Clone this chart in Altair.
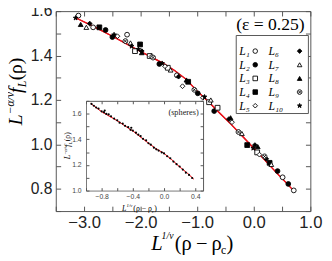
import altair as alt
import pandas as pd

W, H = 261, 205
SANS = "Liberation Sans"
SERIF = "Liberation Serif"
FRAME = "#555555"
RED = "#e8141c"

# ---------------- data ----------------
series_names = ["L₁", "L₂", "L₃", "L₄", "L₅", "L₆", "L₇", "L₈", "L₉", "L₁₀"]
CIRCX = "M1,0A1,1,0,1,1,-1,0A1,1,0,1,1,1,0Z M-0.7,-0.7L0.7,0.7M-0.7,0.7L0.7,-0.7"
STAR = "M0,-1L0.24,-0.33L0.95,-0.31L0.38,0.12L0.59,0.81L0,0.4L-0.59,0.81L-0.38,0.12L-0.95,-0.31L-0.24,-0.33Z"
series_shapes = ["circle", "circle", "square", "square", "diamond", "diamond",
                 "triangle-up", "triangle-up", CIRCX, STAR]
series_fills = ["white", "black", "white", "black", "white", "black",
                "white", "black", "white", "black"]

L1_x = [-3.10, -2.84, -2.24, -1.36, 0.51, 0.707]
L1_y = [1.580, 1.527, 1.494, 1.311, 0.852, 0.793]
L2_x = [-2.62, -2.50, -1.67, -0.99, -0.70, 0.42, 0.61]
L2_y = [1.515, 1.483, 1.362, 1.230, 1.150, 0.880, 0.822]
L3_x = [-2.10, -1.84, -1.52, -0.79, -0.64, 0.06]
L3_y = [1.420, 1.398, 1.345, 1.190, 1.165, 0.964]
L4_x = [-2.73, -2.01, -1.16, -0.116, 0.28]
L4_y = [1.527, 1.450, 1.282, 0.997, 0.917]
L5_x = [-2.41, -1.81, -1.57, -1.26, -0.90, -0.385, 0.10]
L5_y = [1.487, 1.395, 1.352, 1.262, 1.210, 1.100, 0.954]
L6_x = [-2.90, -1.98, -1.33, -0.44, 0.02, 0.22]
L6_y = [1.544, 1.420, 1.305, 1.114, 0.997, 0.935]
L7_x = [-2.96, -2.18, -1.47, -0.76, -0.21, 0.31]
L7_y = [1.527, 1.457, 1.335, 1.200, 1.049, 0.910]
L8_x = [-3.06, -1.98, -1.19, -0.41, 0.07]
L8_y = [1.540, 1.413, 1.290, 1.120, 0.990]
L9_x = [-2.27, -1.78, -1.05, -0.27, 0.19]
L9_y = [1.465, 1.391, 1.246, 1.056, 0.946]
L10_x = [-3.15, -2.47, -2.16, -2.04, -1.62, -0.87, -0.01]
L10_y = [1.569, 1.494, 1.442, 1.428, 1.365, 1.214, 0.983]

series_x = [L1_x, L2_x, L3_x, L4_x, L5_x, L6_x, L7_x, L8_x, L9_x, L10_x]
series_y = [L1_y, L2_y, L3_y, L4_y, L5_y, L6_y, L7_y, L8_y, L9_y, L10_y]

fit_x = [-3.15, -2.8, -2.5, -2.2, -2.0, -1.8, -1.6, -1.4, -1.2, -1.0, -0.8, -0.6,
         -0.4, -0.2, 0.0, 0.2, 0.4, 0.6, 0.71]
fit_y = [1.570, 1.527, 1.487, 1.446, 1.418, 1.392, 1.365, 1.333, 1.294, 1.240, 1.192,
         1.140, 1.090, 1.037, 0.983, 0.928, 0.873, 0.820, 0.790]

inset_x = [-0.93, -0.90, -0.87, -0.84, -0.80, -0.77, -0.76, -0.74, -0.71, -0.68, -0.64,
           -0.60, -0.57, -0.53, -0.50, -0.46, -0.43, -0.42, -0.40, -0.36, -0.33, -0.30,
           -0.27, -0.23, -0.20, -0.17, -0.13, -0.10, -0.07, -0.03, 0.00, 0.04, 0.08,
           0.12, 0.16, 0.20, 0.24, 0.28, 0.32, 0.36]
inset_y = [1.676, 1.662, 1.648, 1.640, 1.618, 1.612, 1.625, 1.598, 1.594, 1.580, 1.562,
           1.548, 1.530, 1.523, 1.505, 1.495, 1.474, 1.490, 1.468, 1.452, 1.436, 1.425,
           1.404, 1.392, 1.369, 1.358, 1.335, 1.322, 1.312, 1.298, 1.290, 1.268, 1.252,
           1.226, 1.206, 1.188, 1.164, 1.140, 1.122, 1.098]
inset_fit_x = [-0.94, -0.8, -0.6, -0.4, -0.2, -0.1, 0.0, 0.1, 0.2, 0.3, 0.38]
inset_fit_y = [1.680, 1.615, 1.545, 1.465, 1.370, 1.325, 1.290, 1.240, 1.185, 1.135, 1.090]

main_xticks = [-3.5, -3.0, -2.5, -2.0, -1.5, -1.0, -0.5, 0.0, 0.5, 1.0]
main_yticks = [0.7, 0.8, 0.9, 1.0, 1.1, 1.2, 1.3, 1.4, 1.5, 1.6]
inset_xticks = [-1.0, -0.8, -0.6, -0.4, -0.2, 0.0, 0.2, 0.4]
inset_yticks = [1.0, 1.1, 1.2, 1.3, 1.4, 1.5, 1.6, 1.7]

# ---------------- frames ----------------
rows = []
for name, xs, ys in zip(series_names, series_x, series_y):
    for a, b in zip(xs, ys):
        rows.append({"series": name, "x": a, "y": b})
df_pts = pd.DataFrame(rows)
df_fit = pd.DataFrame({"x": fit_x, "y": fit_y})
df_in = pd.DataFrame({"x": inset_x, "y": inset_y})
df_infit = pd.DataFrame({"x": inset_fit_x, "y": inset_fit_y})
df_leg = pd.DataFrame({
    "series": series_names,
    "col": [i // 5 for i in range(len(series_names))],
    "row": [i % 5 for i in range(len(series_names))],
})

shape_scale = alt.Scale(domain=series_names, range=series_shapes)
fill_scale = alt.Scale(domain=series_names, range=series_fills)

# ---------------- scales ----------------
def xs_main():
    return alt.Scale(domain=[-3.5, 1.0], nice=False, zero=False)

def ys_main():
    return alt.Scale(domain=[0.7, 1.6], nice=False, zero=False)

IX0, IX1, IY0, IY1 = 31, 151, 184, 92

def xs_in():
    return alt.Scale(domain=[-1.0, 0.5], range=[IX0, IX1], nice=False, zero=False)

def ys_in():
    return alt.Scale(domain=[1.0, 1.7], range=[IY0, IY1], nice=False, zero=False)

def tick_axis(orient, offset, values, size, domain=False):
    return alt.Axis(orient=orient, offset=offset, values=values, labels=False,
                    ticks=True, tickSize=size, tickColor=FRAME, tickWidth=1,
                    domain=domain, domainColor=FRAME, domainWidth=1,
                    grid=False, title=None)

x_lab_expr = "abs(datum.value % 1) < 0.01 ? format(datum.value, '.1f') : ''"
y_lab_expr = "(abs(round(datum.value*10) % 2) == 0 && datum.value > 0.75) ? format(datum.value, '.1f') : ''"
ix_lab_expr = "abs(round(datum.value*10) % 4) == 0 ? format(datum.value, '.1f') : ''"
iy_lab_expr = "abs(round(datum.value*10) % 2) == 0 ? format(datum.value, '.1f') : ''"

ax_x_lab = alt.Axis(orient="bottom", values=main_xticks, labelExpr=x_lab_expr, ticks=False,
                    tickSize=0, domain=False, grid=False, title=None, labelFont=SANS,
                    labelFontSize=17, labelColor="#222222", labelPadding=4,
                    labelFlush=False, labelOverlap=False, labelBound=False)
ax_y_lab = alt.Axis(orient="left", values=main_yticks, labelExpr=y_lab_expr, ticks=False,
                    tickSize=0, domain=False, grid=False, title=None, labelFont=SANS,
                    labelFontSize=16, labelColor="#222222", labelPadding=4,
                    labelFlush=False, labelOverlap=False, labelBound=False,
                    labelBaseline="middle")

ax_ix_lab = alt.Axis(orient="bottom", offset=-(H - IY0), values=inset_xticks,
                     labelExpr=ix_lab_expr, ticks=False, tickSize=0, domain=True,
                     domainColor=FRAME, domainWidth=0.8, grid=False, title=None,
                     labelFont=SANS, labelFontSize=7, labelColor="#444444",
                     labelPadding=2, labelFlush=False, labelOverlap=False, labelBound=False)
ax_iy_lab = alt.Axis(orient="left", offset=-IX0, values=inset_yticks,
                     labelExpr=iy_lab_expr, ticks=False, tickSize=0, domain=True,
                     domainColor=FRAME, domainWidth=0.8, grid=False, title=None,
                     labelFont=SANS, labelFontSize=7, labelColor="#444444",
                     labelPadding=5, labelFlush=False, labelOverlap=False, labelBound=False,
                     labelBaseline="middle")

# ---------------- main layers ----------------
main_fit1 = alt.Chart(df_fit).mark_line(color=RED, strokeWidth=1.3).encode(
    x=alt.X("x:Q", scale=xs_main(), axis=tick_axis("bottom", -H, main_xticks, 5)),
    y=alt.Y("y:Q", scale=ys_main(), axis=tick_axis("right", -W, main_yticks, 5)),
)
main_fit2 = alt.Chart(df_fit).mark_line(color=RED, strokeWidth=1.3).encode(
    x=alt.X("x:Q", scale=xs_main(), axis=tick_axis("top", -H, main_xticks, 5)),
    y=alt.Y("y:Q", scale=ys_main(), axis=tick_axis("left", -W, main_yticks, 5)),
)
main_pts = alt.Chart(df_pts).mark_point(size=24, stroke="black", strokeWidth=0.9,
                                        opacity=1).encode(
    x=alt.X("x:Q", scale=xs_main(), axis=ax_x_lab),
    y=alt.Y("y:Q", scale=ys_main(), axis=ax_y_lab),
    shape=alt.Shape("series:N", scale=shape_scale, legend=None),
    fill=alt.Fill("series:N", scale=fill_scale, legend=None),
)

# ---------------- legend (drawn from the series table) ----------------
leg_box = alt.Chart(alt.Data(values=[{}])).mark_rect(
    fill="white", stroke=FRAME, strokeWidth=1).encode(
    x=alt.value(185), x2=alt.value(259), y=alt.value(25), y2=alt.value(105))
leg_sym = alt.Chart(df_leg).mark_point(size=22, stroke="black", strokeWidth=0.9,
                                       opacity=1).encode(
    x=alt.X("col:Q", scale=alt.Scale(domain=[0, 1], range=[204.5, 250]), axis=None),
    y=alt.Y("row:Q", scale=alt.Scale(domain=[0, 4], range=[41, 97]), axis=None),
    shape=alt.Shape("series:N", scale=shape_scale, legend=None),
    fill=alt.Fill("series:N", scale=fill_scale, legend=None),
)
leg_lab = alt.Chart(df_leg).mark_text(font=SERIF, fontStyle="italic", fontSize=12,
                                      align="left", baseline="middle", color="black").encode(
    x=alt.X("col:Q", scale=alt.Scale(domain=[0, 1], range=[188, 218]), axis=None),
    y=alt.Y("row:Q", scale=alt.Scale(domain=[0, 4], range=[41, 97]), axis=None),
    text="series:N",
)

# ---------------- inset layers ----------------
in_fit1 = alt.Chart(df_infit).mark_line(color=RED, strokeWidth=0.8).encode(
    x=alt.X("x:Q", scale=xs_in(), axis=tick_axis("top", -IY0, inset_xticks, 3)),
    y=alt.Y("y:Q", scale=ys_in(), axis=tick_axis("right", -(W - IX0), inset_yticks, 3)),
)
in_fit2 = alt.Chart(df_infit).mark_line(color=RED, strokeWidth=0.8).encode(
    x=alt.X("x:Q", scale=xs_in(), axis=tick_axis("bottom", -(H - IY1), inset_xticks, 3, True)),
    y=alt.Y("y:Q", scale=ys_in(), axis=tick_axis("left", -IX1, inset_yticks, 3, True)),
)
in_pts = alt.Chart(df_in).mark_circle(size=5, color="black", opacity=1).encode(
    x=alt.X("x:Q", scale=xs_in(), axis=ax_ix_lab),
    y=alt.Y("y:Q", scale=ys_in(), axis=ax_iy_lab),
)

# ---------------- text ----------------
def txt(s, x, y, size, italic=False, angle=0, align="left", font=SERIF, color="black"):
    kw = dict(text=s, font=font, fontSize=size, align=align, baseline="alphabetic",
              color=color, angle=angle)
    if italic:
        kw["fontStyle"] = "italic"
    return alt.Chart(alt.Data(values=[{}])).mark_text(**kw).encode(
        x=alt.value(x), y=alt.value(y))

texts = [
    # x title
    txt("L", 98, 245, 21, italic=True),
    txt("1/ν", 108.5, 234, 10, italic=True),
    txt("(ρ\u2009−\u2009ρ", 122, 245, 21),
    txt("c", 169.5, 249, 12),
    txt(")", 175, 245, 21),
    # y title (rotated)
    txt("L", -35, 117, 20, italic=True, angle=270),
    txt("−α/ν", -43, 106, 12, italic=True, angle=270),
    txt("f", -35, 84, 20, italic=True, angle=270),
    txt("L", -31, 78, 12, italic=True, angle=270),
    txt("(ρ)", -35, 71, 20, angle=270),
    # annotations
    txt("(ε = 0.25)", 220, 19, 18, align="center"),
    txt("(spheres)", 131, 106, 8.5, align="center", color="#222222"),
    # inset x title
    txt("L", 68, 205, 8, italic=True),
    txt("1/ν", 72.5, 201, 5, italic=True),
    txt("(ρ − ρ", 79.5, 205, 8),
    txt("c", 98.5, 207, 5),
    txt(")", 101, 205, 8),
    # inset y title
    txt("L", 15, 152, 8, italic=True, angle=270),
    txt("−α/ν", 11.5, 147.5, 5, italic=True, angle=270),
    txt("f", 15, 139, 8, italic=True, angle=270),
    txt("L", 17, 136.5, 5, italic=True, angle=270),
    txt("(ρ)", 15, 133.5, 8, angle=270),
]

chart = alt.layer(main_fit1, main_fit2, main_pts, leg_box, leg_sym, leg_lab,
                  in_fit1, in_fit2, in_pts, *texts).resolve_scale(
    x="independent", y="independent"
).resolve_axis(x="independent", y="independent").properties(
    width=W, height=H,
    padding={"left": 49, "top": 0, "right": 14, "bottom": 48},
    autosize=alt.AutoSizeParams(type="none"),
).configure_view(stroke=FRAME, strokeWidth=1).configure_axis(grid=False)

chart.save("out.html", embed_options={"renderer": "svg", "actions": False})
